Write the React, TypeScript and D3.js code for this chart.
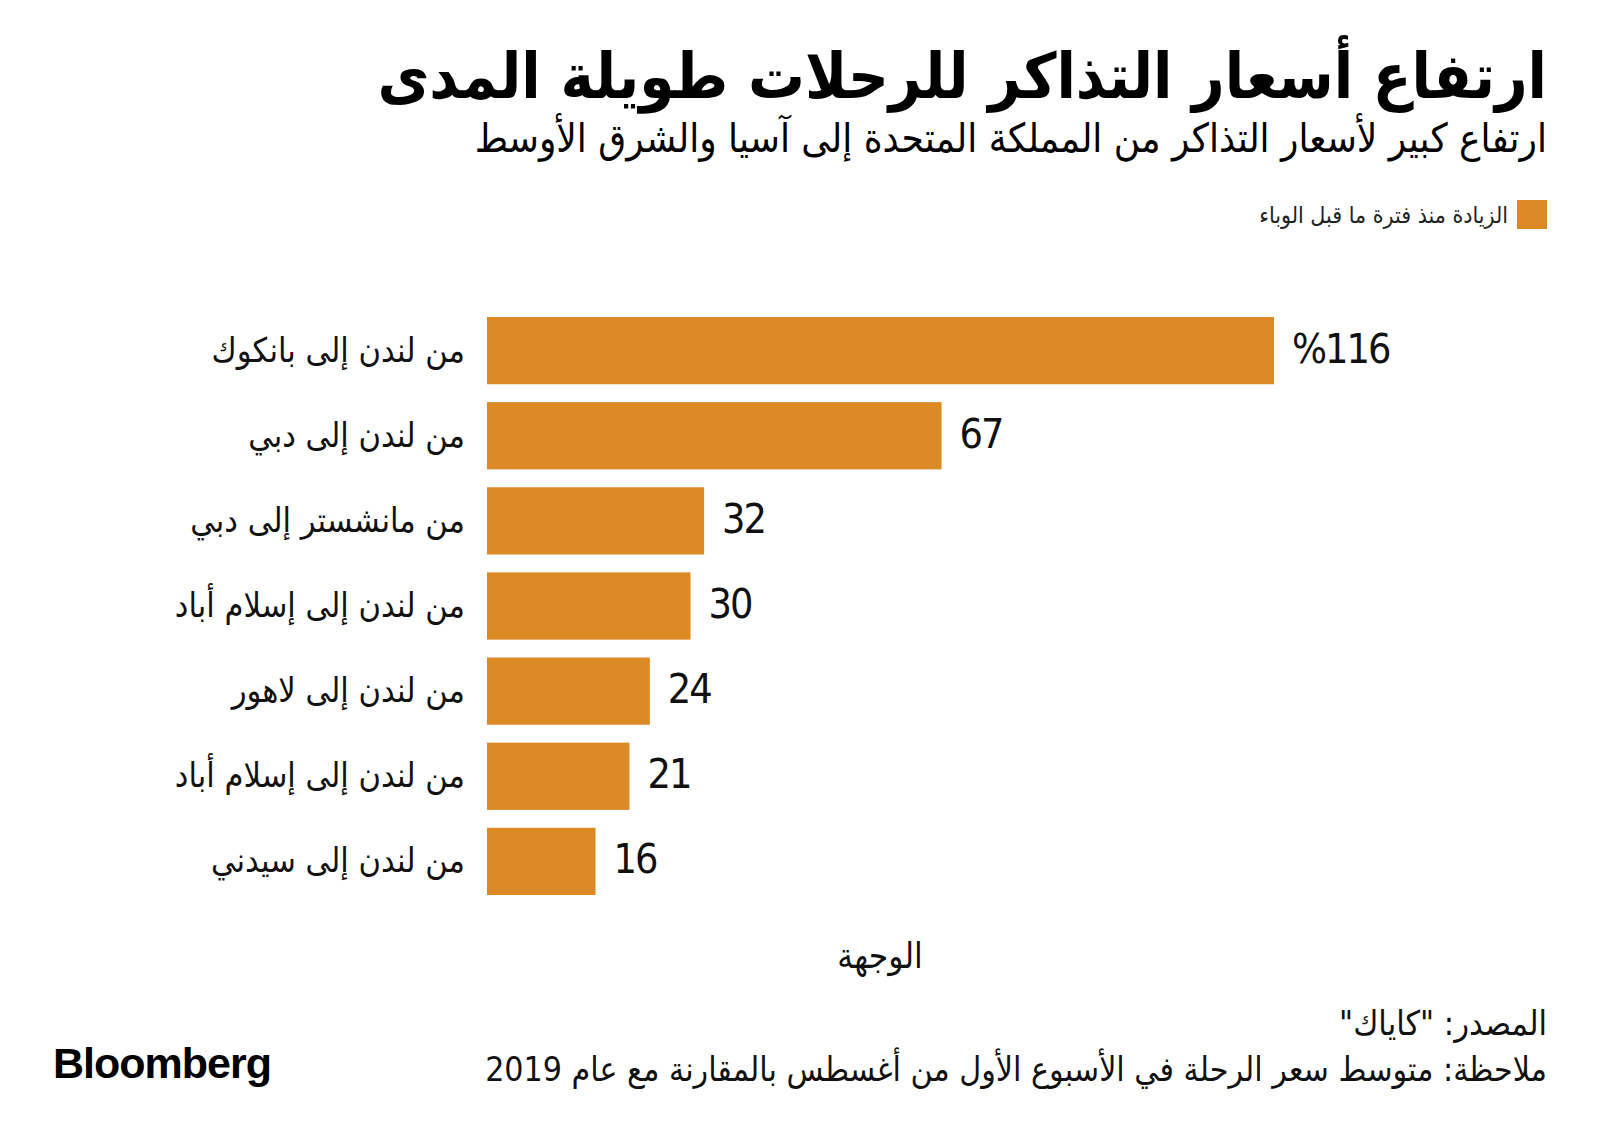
import React from "react";
import * as d3 from "d3";

const categories = [
  "من لندن إلى بانكوك",
  "من لندن إلى دبي",
  "من مانشستر إلى دبي",
  "من لندن إلى إسلام أباد",
  "من لندن إلى لاهور",
  "من لندن إلى إسلام أباد",
  "من لندن إلى سيدني",
];
const values = [116, 67, 32, 30, 24, 21, 16];
const valueLabels = ["%116", "67", "32", "30", "24", "21", "16"];

const title = "ارتفاع أسعار التذاكر للرحلات طويلة المدى";
const subtitle = "ارتفاع كبير لأسعار التذاكر من المملكة المتحدة إلى آسيا والشرق الأوسط";
const legendLabel = "الزيادة منذ فترة ما قبل الوباء";
const axisTitle = "الوجهة";
const sourceText = 'المصدر: "كاياك"';
const noteText = "ملاحظة: متوسط سعر الرحلة في الأسبوع الأول من أغسطس بالمقارنة مع عام 2019";

const W = 1600;
const H = 1143;
const BAR = "#db8a26";
const AR = "'DejaVu Sans Condensed', 'DejaVu Sans', sans-serif";
const NUM = "'Liberation Sans Narrow', 'DejaVu Sans Condensed', sans-serif";

export default function App() {
  const x = d3.scaleLinear().domain([0, 116]).range([487, 1274]);
  const y = d3
    .scaleBand<number>()
    .domain(d3.range(categories.length))
    .range([317, 895])
    .paddingInner(0.21)
    .paddingOuter(0);

  return (
    <svg
      width={W}
      height={H}
      viewBox={`0 0 ${W} ${H}`}
      style={{ position: "absolute", left: 0, top: 0, background: "#fff" }}
    >
      <rect x={0} y={0} width={W} height={H} fill="#fff" />
      <text
        x={1547}
        y={98}
        direction="rtl"
        textAnchor="start"
        fontFamily={AR}
        fontWeight="bold"
        fontSize={63}
        fill="#000"
      >
        {title}
      </text>
      <text
        x={1547}
        y={152}
        direction="rtl"
        textAnchor="start"
        fontFamily={AR}
        fontSize={40}
        fill="#000"
      >
        {subtitle}
      </text>

      <rect x={1517} y={200} width={30} height={29} fill={BAR} />
      <text
        x={1508}
        y={223}
        direction="rtl"
        textAnchor="start"
        fontFamily={AR}
        fontSize={23}
        fill="#222"
      >
        {legendLabel}
      </text>

      {values.map((v, i) => (
        <g key={i}>
          <rect
            x={x(0)}
            y={y(i)}
            width={x(v) - x(0)}
            height={y.bandwidth()}
            fill={BAR}
          />
          <text
            x={465}
            y={(y(i) as number) + y.bandwidth() / 2 + 11}
            direction="rtl"
            textAnchor="start"
            fontFamily={AR}
            fontSize={34}
            fill="#111"
          >
            {categories[i]}
          </text>
          <text
            x={x(v) + 18}
            y={(y(i) as number) + y.bandwidth() / 2 + 12}
            textAnchor="start"
            fontFamily={NUM}
            fontSize={41}
            letterSpacing={-2}
            fill="#111"
          >
            {valueLabels[i]}
          </text>
        </g>
      ))}

      <text
        x={880}
        y={968}
        textAnchor="middle"
        fontFamily={AR}
        fontSize={35}
        fill="#111"
      >
        {axisTitle}
      </text>

      <text
        x={1547}
        y={1035}
        direction="rtl"
        textAnchor="start"
        fontFamily={AR}
        fontSize={34}
        fill="#111"
      >
        {sourceText}
      </text>
      <text
        x={1547}
        y={1081}
        direction="rtl"
        textAnchor="start"
        fontFamily={AR}
        fontSize={33.6}
        fill="#111"
      >
        {noteText}
      </text>

      <text
        x={53}
        y={1078}
        fontFamily="'Liberation Sans', Arial, sans-serif"
        fontWeight="bold"
        fontSize={43}
        letterSpacing={-1}
        fill="#000"
      >
        Bloomberg
      </text>
    </svg>
  );
}
